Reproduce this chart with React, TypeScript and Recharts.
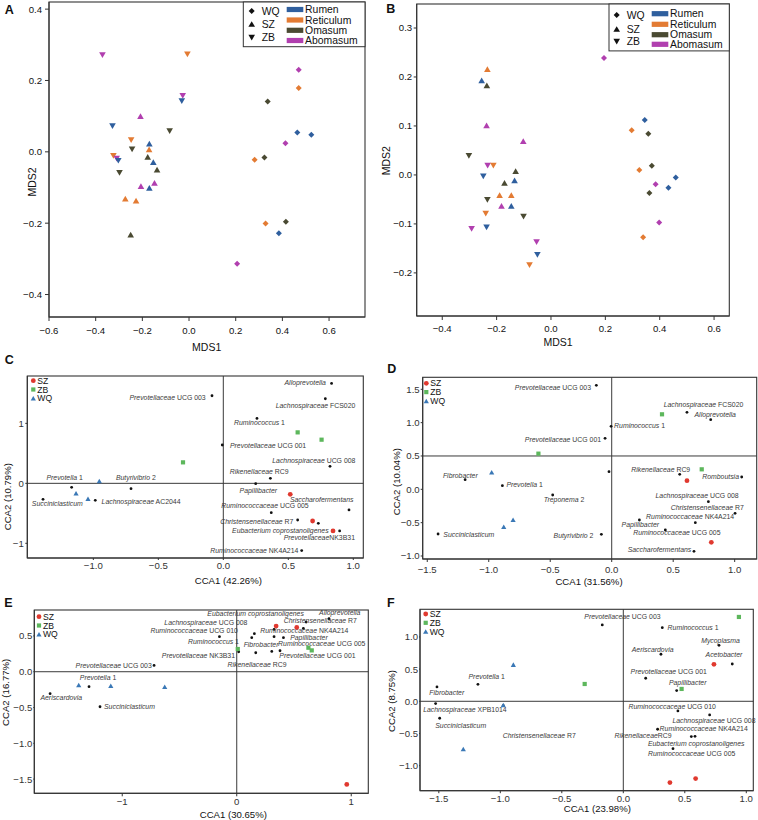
import React from "react";
import { ScatterChart, Scatter, XAxis, YAxis, ReferenceLine } from "recharts";

const FONT = "'Liberation Sans', Arial, Helvetica, sans-serif";

const organs = ["Rumen", "Reticulum", "Omasum", "Abomasum"];
const farms = ["WQ", "SZ", "ZB"];
const organColor: Record<string, string> = {
  Rumen: "#2f5f9e",
  Reticulum: "#e37b33",
  Omasum: "#4a4a32",
  Abomasum: "#b13faf",
};
const farmColor: Record<string, string> = { SZ: "#e0392f", ZB: "#5db75c", WQ: "#3a78b6" };

// ---- panel A (NMDS) ----
const nmdsA_WQ = [
  { organ: "Abomasum", x: 0.47, y: 0.23 },
  { organ: "Reticulum", x: 0.47, y: 0.179 },
  { organ: "Omasum", x: 0.337, y: 0.141 },
  { organ: "Rumen", x: 0.464, y: 0.054 },
  { organ: "Rumen", x: 0.524, y: 0.048 },
  { organ: "Abomasum", x: 0.413, y: 0.024 },
  { organ: "Omasum", x: 0.323, y: -0.016 },
  { organ: "Reticulum", x: 0.281, y: -0.022 },
  { organ: "Reticulum", x: 0.328, y: -0.201 },
  { organ: "Omasum", x: 0.415, y: -0.196 },
  { organ: "Rumen", x: 0.385, y: -0.228 },
  { organ: "Abomasum", x: 0.206, y: -0.314 },
];
const nmdsA_SZ = [
  { organ: "Abomasum", x: -0.208, y: 0.1 },
  { organ: "Rumen", x: -0.17, y: 0.023 },
  { organ: "Reticulum", x: -0.171, y: 0.007 },
  { organ: "Omasum", x: -0.177, y: -0.014 },
  { organ: "Rumen", x: -0.153, y: -0.029 },
  { organ: "Omasum", x: -0.137, y: -0.05 },
  { organ: "Abomasum", x: -0.148, y: -0.087 },
  { organ: "Abomasum", x: -0.206, y: -0.096 },
  { organ: "Rumen", x: -0.17, y: -0.101 },
  { organ: "Reticulum", x: -0.273, y: -0.131 },
  { organ: "Reticulum", x: -0.227, y: -0.137 },
  { organ: "Omasum", x: -0.25, y: -0.232 },
];
const nmdsA_ZB = [
  { organ: "Abomasum", x: -0.371, y: 0.271 },
  { organ: "Reticulum", x: -0.007, y: 0.273 },
  { organ: "Abomasum", x: -0.027, y: 0.157 },
  { organ: "Rumen", x: -0.031, y: 0.142 },
  { organ: "Rumen", x: -0.328, y: 0.072 },
  { organ: "Reticulum", x: -0.248, y: 0.033 },
  { organ: "Omasum", x: -0.244, y: 0.007 },
  { organ: "Omasum", x: -0.083, y: 0.058 },
  { organ: "Reticulum", x: -0.324, y: -0.011 },
  { organ: "Abomasum", x: -0.31, y: -0.019 },
  { organ: "Rumen", x: -0.303, y: -0.025 },
  { organ: "Omasum", x: -0.298, y: -0.059 },
];

// ---- panel B (NMDS) ----
const nmdsB_WQ = [
  { organ: "Abomasum", x: 0.195, y: 0.239 },
  { organ: "Rumen", x: 0.345, y: 0.112 },
  { organ: "Reticulum", x: 0.297, y: 0.091 },
  { organ: "Omasum", x: 0.358, y: 0.084 },
  { organ: "Omasum", x: 0.371, y: 0.019 },
  { organ: "Reticulum", x: 0.325, y: 0.01 },
  { organ: "Abomasum", x: 0.385, y: -0.019 },
  { organ: "Omasum", x: 0.362, y: -0.037 },
  { organ: "Rumen", x: 0.432, y: -0.026 },
  { organ: "Rumen", x: 0.459, y: -0.005 },
  { organ: "Abomasum", x: 0.398, y: -0.097 },
  { organ: "Reticulum", x: 0.339, y: -0.127 },
];
const nmdsB_SZ = [
  { organ: "Reticulum", x: -0.234, y: 0.216 },
  { organ: "Rumen", x: -0.255, y: 0.193 },
  { organ: "Omasum", x: -0.236, y: 0.183 },
  { organ: "Abomasum", x: -0.237, y: 0.101 },
  { organ: "Abomasum", x: -0.102, y: 0.069 },
  { organ: "Omasum", x: -0.13, y: 0.008 },
  { organ: "Rumen", x: -0.134, y: -0.011 },
  { organ: "Omasum", x: -0.171, y: -0.016 },
  { organ: "Reticulum", x: -0.189, y: -0.041 },
  { organ: "Reticulum", x: -0.146, y: -0.041 },
  { organ: "Abomasum", x: -0.182, y: -0.063 },
  { organ: "Rumen", x: -0.146, y: -0.063 },
];
const nmdsB_ZB = [
  { organ: "Omasum", x: -0.302, y: 0.039 },
  { organ: "Abomasum", x: -0.233, y: 0.019 },
  { organ: "Reticulum", x: -0.212, y: 0.019 },
  { organ: "Rumen", x: -0.249, y: -0.003 },
  { organ: "Omasum", x: -0.234, y: -0.051 },
  { organ: "Reticulum", x: -0.24, y: -0.079 },
  { organ: "Rumen", x: -0.237, y: -0.107 },
  { organ: "Abomasum", x: -0.292, y: -0.11 },
  { organ: "Omasum", x: -0.101, y: -0.085 },
  { organ: "Abomasum", x: -0.053, y: -0.137 },
  { organ: "Rumen", x: -0.05, y: -0.163 },
  { organ: "Reticulum", x: -0.079, y: -0.184 },
];

// ---- panel C (CCA) ----
const ccaC_SZ = [{ x: 0.515, y: -0.183 }, { x: 0.687, y: -0.628 }, { x: 0.844, y: -0.794 }];
const ccaC_ZB = [{ x: -0.31, y: 0.35 }, { x: 0.572, y: 0.85 }, { x: 0.756, y: 0.728 }];
const ccaC_WQ = [{ x: -0.954, y: 0.039 }, { x: -1.133, y: -0.167 }, { x: -1.041, y: -0.256 }];
const ccaC_taxa = [
  { name: "Alloprevotella", x: 0.833, y: 1.667 },
  { name: "Lachnospiraceae FCS020", x: 0.785, y: 1.411 },
  { name: "Prevotellaceae UCG 003", x: -0.087, y: 1.461 },
  { name: "Ruminococcus 1", x: 0.259, y: 1.083 },
  { name: "Prevotellaceae UCG 001", x: -0.008, y: 0.639 },
  { name: "Lachnospiraceae UCG 008", x: 0.821, y: 0.283 },
  { name: "Rikenellaceae RC9", x: 0.362, y: 0.083 },
  { name: "Papillibacter", x: 0.249, y: -0.006 },
  { name: "Saccharofermentans", x: 0.967, y: -0.444 },
  { name: "Ruminococcaceae UCG 005", x: 0.369, y: -0.489 },
  { name: "Christensenellaceae R7", x: 0.572, y: -0.611 },
  { name: "Eubacterium coprostanoligenes", x: 0.731, y: -0.667 },
  { name: "PrevotellaceaeNK3B31", x: 0.895, y: -0.794 },
  { name: "Ruminococcaceae NK4A214", x: 0.603, y: -1.122 },
  { name: "Prevotella 1", x: -1.167, y: -0.067 },
  { name: "Butyrivibrio 2", x: -0.71, y: -0.089 },
  { name: "Succiniclasticum", x: -1.387, y: -0.267 },
  { name: "Lachnospiraceae AC2044", x: -0.985, y: -0.283 },
];

// ---- panel D (CCA) ----
const ccaD_SZ = [{ x: 0.612, y: 0.13 }, { x: 0.81, y: -0.795 }];
const ccaD_ZB = [{ x: -0.596, y: 0.535 }, { x: 0.409, y: 1.125 }, { x: 0.732, y: 0.3 }];
const ccaD_WQ = [{ x: -0.976, y: 0.255 }, { x: -0.802, y: -0.455 }, { x: -0.878, y: -0.56 }];
const ccaD_taxa = [
  { name: "Prevotellaceae UCG 003", x: -0.125, y: 1.56 },
  { name: "Lachnospiraceae FCS020", x: 0.612, y: 1.155 },
  { name: "Alloprevotella", x: 0.805, y: 1.045 },
  { name: "Ruminococcus 1", x: -0.005, y: 0.945 },
  { name: "Prevotellaceae UCG 001", x: -0.054, y: 0.765 },
  { name: "", x: -0.022, y: 0.265 },
  { name: "Rikenellaceae RC9", x: 0.553, y: 0.225 },
  { name: "Romboutsia", x: 1.057, y: 0.185 },
  { name: "Fibrobacter", x: -1.192, y: 0.145 },
  { name: "Prevotella 1", x: -0.889, y: 0.055 },
  { name: "Treponema 2", x: -0.48, y: -0.085 },
  { name: "Lachnospiraceae UCG 008", x: 0.786, y: -0.185 },
  { name: "Christensenellaceae R7", x: 1.003, y: -0.36 },
  { name: "Ruminococcaceae NK4A214", x: 0.68, y: -0.5 },
  { name: "Papillibacter", x: 0.225, y: -0.46 },
  { name: "Ruminococcaceae UCG 005", x: 0.436, y: -0.61 },
  { name: "Succiniclasticum", x: -1.412, y: -0.67 },
  { name: "Butyrivibrio 2", x: -0.084, y: -0.675 },
  { name: "Saccharofermentans", x: 0.669, y: -0.93 },
];

// ---- panel E (CCA) ----
const ccaE_SZ = [{ x: 0.344, y: 0.638 }, { x: 0.524, y: 0.619 }, { x: 0.961, y: -1.574 }];
const ccaE_ZB = [{ x: 0.009, y: 0.317 }, { x: 0.626, y: 0.335 }, { x: 0.655, y: 0.298 }];
const ccaE_WQ = [{ x: -1.38, y: -0.186 }, { x: -1.1, y: -0.196 }, { x: -0.629, y: -0.209 }];
const ccaE_taxa = [
  { name: "Alloprevotella", x: 0.806, y: 0.74 },
  { name: "Christensenellaceae R7", x: 0.606, y: 0.694 },
  { name: "Eubacterium coprostanoligenes", x: 0.326, y: 0.591 },
  { name: "Ruminococcaceae NK4A214", x: 0.582, y: 0.605 },
  { name: "Lachnospiraceae UCG 008", x: 0.154, y: 0.531 },
  { name: "Ruminococcaceae UCG 010", x: 0.131, y: 0.475 },
  { name: "Ruminococcus 1", x: -0.151, y: 0.489 },
  { name: "Papillibacter", x: 0.408, y: 0.475 },
  { name: "Fibrobacter", x: 0.326, y: 0.489 },
  { name: "Rikenellaceae RC9", x: 0.166, y: 0.265 },
  { name: "Prevotellaceae NK3B31", x: 0.017, y: 0.279 },
  { name: "Prevotellaceae UCG 001", x: 0.378, y: 0.293 },
  { name: "Ruminococcaceae UCG 005", x: 0.306, y: 0.284 },
  { name: "Prevotellaceae UCG 003", x: -0.722, y: 0.088 },
  { name: "Prevotella 1", x: -1.29, y: -0.209 },
  { name: "Aeriscardovia", x: -1.63, y: -0.307 },
  { name: "Succiniclasticum", x: -1.194, y: -0.489 },
];

// ---- panel F (CCA) ----
const ccaF_SZ = [{ x: 0.737, y: 0.575 }, { x: 0.379, y: -1.264 }, { x: 0.588, y: -1.202 }];
const ccaF_ZB = [{ x: 0.94, y: 1.311 }, { x: -0.314, y: 0.269 }, { x: 0.474, y: 0.192 }];
const ccaF_WQ = [{ x: -0.894, y: 0.57 }, { x: -0.976, y: -0.057 }, { x: -1.301, y: -0.741 }];
const ccaF_taxa = [
  { name: "Prevotellaceae UCG 003", x: -0.171, y: 1.187 },
  { name: "Ruminococcus 1", x: 0.317, y: 1.145 },
  { name: "Mycoplasma", x: 0.778, y: 0.87 },
  { name: "Aeriscardovia", x: 0.306, y: 0.731 },
  { name: "Acetobacter", x: 0.886, y: 0.58 },
  { name: "Prevotellaceae UCG 001", x: 0.182, y: 0.358 },
  { name: "Papillibacter", x: 0.434, y: 0.166 },
  { name: "Prevotella 1", x: -1.182, y: 0.264 },
  { name: "Fibrobacter", x: -1.515, y: 0.223 },
  { name: "Lachnospiraceae XPB1014", x: -1.526, y: -0.036 },
  { name: "Succiniclasticum", x: -1.493, y: -0.264 },
  { name: "Christensenellaceae R7", x: -0.976, y: -0.067 },
  { name: "Ruminococcaceae UCG 010", x: 0.444, y: -0.15 },
  { name: "Lachnospiraceae UCG 008", x: 0.702, y: -0.212 },
  { name: "Ruminococcaceae NK4A214", x: 0.279, y: -0.435 },
  { name: "RikenellaceaeRC9", x: 0.553, y: -0.549 },
  { name: "Eubacterium coprostanoligenes", x: 0.583, y: -0.544 },
  { name: "Ruminococcaceae UCG 005", x: 0.404, y: -0.736 },
];

// label placement (px offset from the dot, text anchor)
type LP = Record<string, [number, number, "start" | "middle" | "end"]>;
const labelsC: LP = {
  Alloprevotella: [-5.7, 1.8, "end"],
  "Lachnospiraceae FCS020": [-9.8, 8.8, "middle"],
  "Prevotellaceae UCG 003": [-6.3, 3.8, "end"],
  "Ruminococcus 1": [2.5, 6.8, "middle"],
  "Prevotellaceae UCG 001": [7.7, 3.2, "start"],
  "Lachnospiraceae UCG 008": [-16.2, -3.5, "middle"],
  "Rikenellaceae RC9": [-11.2, -4.2, "middle"],
  Papillibacter: [2.7, 9.2, "middle"],
  Saccharofermentans: [-27.3, -8.2, "middle"],
  "Ruminococcaceae UCG 005": [-6.3, -4.8, "middle"],
  "Christensenellaceae R7": [-4.3, 3.8, "end"],
  "Eubacterium coprostanoligenes": [-38, 9.8, "middle"],
  PrevotellaceaeNK3B31: [-20.3, 9.2, "middle"],
  "Ruminococcaceae NK4A214": [-3.3, 2.8, "end"],
  "Prevotella 1": [-7, -7.2, "middle"],
  "Butyrivibrio 2": [4.8, -8.5, "middle"],
  Succiniclasticum: [14.3, 6.5, "middle"],
  "Lachnospiraceae AC2044": [6.3, 3.2, "start"],
};
const labelsD: LP = {
  "Prevotellaceae UCG 003": [-5.3, 4.5, "end"],
  "Lachnospiraceae FCS020": [16.5, -5.8, "middle"],
  Alloprevotella: [4.5, -2.8, "middle"],
  "Ruminococcus 1": [3, 1.5, "start"],
  "Prevotellaceae UCG 001": [-4, 3.2, "end"],
  "Rikenellaceae RC9": [-19, -2.8, "middle"],
  Romboutsia: [-2.7, 2.5, "end"],
  Fibrobacter: [-4.8, -1.8, "middle"],
  "Prevotella 1": [4, 1.8, "start"],
  "Treponema 2": [11.3, 6.8, "middle"],
  "Lachnospiraceae UCG 008": [-11.3, -3.8, "middle"],
  "Christensenellaceae R7": [-27.8, -3.8, "middle"],
  "Ruminococcaceae NK4A214": [-5.2, -3.8, "middle"],
  Papillibacter: [1, 7.2, "middle"],
  "Ruminococcaceae UCG 005": [11.5, 5.5, "middle"],
  Succiniclasticum: [5.3, 3.2, "start"],
  "Butyrivibrio 2": [-8, 3.2, "end"],
  Saccharofermentans: [-2.7, 0.5, "end"],
};
const labelsE: LP = {
  Alloprevotella: [10.7, -4.2, "middle"],
  "Christensenellaceae R7": [14.2, 0.5, "middle"],
  "Eubacterium coprostanoligenes": [-18.5, -13.8, "middle"],
  "Ruminococcaceae NK4A214": [1, 4.8, "middle"],
  "Lachnospiraceae UCG 008": [-48.5, -8.8, "middle"],
  "Ruminococcaceae UCG 010": [-57.5, -5.2, "middle"],
  "Ruminococcus 1": [-6, 7.5, "middle"],
  Papillibacter: [6.7, 2.5, "start"],
  Fibrobacter: [-13, 10.2, "middle"],
  "Rikenellaceae RC9": [1.3, 13.8, "middle"],
  "Prevotellaceae NK3B31": [-3.7, 6.5, "end"],
  "Prevotellaceae UCG 001": [-0.7, 7.5, "start"],
  "Ruminococcaceae UCG 005": [50, -5.2, "middle"],
  "Prevotellaceae UCG 003": [-2.3, 2.8, "end"],
  "Prevotella 1": [9, -6.5, "middle"],
  Aeriscardovia: [11.2, 6.2, "middle"],
  Succiniclasticum: [4, 2.2, "start"],
};
const labelsF: LP = {
  "Prevotellaceae UCG 003": [20.2, -5.8, "middle"],
  "Ruminococcus 1": [5.3, 2.5, "start"],
  Mycoplasma: [1.5, -2.8, "middle"],
  Aeriscardovia: [-8.3, -2.5, "middle"],
  Acetobacter: [-8.3, -6.6, "middle"],
  "Prevotellaceae UCG 001": [23, -4.5, "middle"],
  Papillibacter: [11, -5.8, "middle"],
  "Prevotella 1": [8.8, -5.8, "middle"],
  Fibrobacter: [9.8, 8.2, "middle"],
  "Lachnospiraceae XPB1014": [29.3, 8.8, "middle"],
  Succiniclasticum: [21, 9.8, "middle"],
  "Christensenellaceae R7": [36, 32.8, "middle"],
  "Ruminococcaceae UCG 010": [-5.7, -1.8, "middle"],
  "Lachnospiraceae UCG 008": [4.3, 8.5, "middle"],
  "Ruminococcaceae NK4A214": [2, 1.5, "start"],
  RikenellaceaeRC9: [-19.7, 1.2, "end"],
  "Eubacterium coprostanoligenes": [1.2, 10.2, "middle"],
  "Ruminococcaceae UCG 005": [18.7, 7.8, "middle"],
};

// ---- marker helpers ----
function triPath(cx: number, cy: number, w: number, up: boolean) {
  const h = w * 0.87;
  return up
    ? `M${cx},${cy - h / 2}L${cx + w / 2},${cy + h / 2}L${cx - w / 2},${cy + h / 2}Z`
    : `M${cx},${cy + h / 2}L${cx + w / 2},${cy - h / 2}L${cx - w / 2},${cy - h / 2}Z`;
}
function diaPath(cx: number, cy: number, r: number) {
  return `M${cx},${cy - r}L${cx + r},${cy}L${cx},${cy + r}L${cx - r},${cy}Z`;
}
function farmMark(farm: string, cx: number, cy: number, fill: string) {
  if (farm === "WQ") return <path d={diaPath(cx, cy, 3)} fill={fill} />;
  return <path d={triPath(cx, cy, 6.6, farm === "SZ")} fill={fill} />;
}
function sampleMark(farm: string, cx: number, cy: number) {
  const c = farmColor[farm];
  if (farm === "SZ") return <circle cx={cx} cy={cy} r={2.4} fill={c} />;
  if (farm === "ZB") return <rect x={cx - 2.1} y={cy - 2.1} width={4.2} height={4.2} fill={c} />;
  return <path d={triPath(cx, cy, 5.2, true)} fill={c} />;
}
function taxonParts(name: string) {
  const m = name.match(/^([A-Z][a-z]+(?: [a-z]+)?)(.*)$/);
  return m ? [m[1], m[2]] : [name, ""];
}

const fmt1 = (v: number) => (v < 0 ? "\u2212" : "") + Math.abs(v).toFixed(1);
const fmt0 = (v: number) => (v < 0 ? "\u2212" : "") + Math.abs(v).toFixed(0);

type Frame = {
  left: number;
  top: number;
  width: number;
  height: number;
  box: [number, number, number, number];
  xDomain: [number, number];
  yDomain: [number, number];
  xTicks: number[];
  yTicks: number[];
  xFmt: (v: number) => string;
  yFmt: (v: number) => string;
  xTick: [number, number];
  yTick: [number, number];
  tickColor: string;
};

// frame rectangles of the six plot panels (page pixels)
const panelBoxes: [number, number, number, number][] = [
  [49, 2, 365, 317],
  [416.7, 4, 729.3, 316],
  [27.3, 376, 363.3, 558],
  [422.7, 377.3, 756.7, 559],
  [34.3, 610, 368.3, 793.3],
  [420, 609.3, 753.3, 790.7],
];

function chart(f: Frame, children: React.ReactNode) {
  const [x0, y0, x1, y1] = f.box;
  const tickStyle = { fontSize: 9.6, fill: f.tickColor, fontFamily: FONT };
  return (
    <div style={{ position: "absolute", left: f.left, top: f.top }}>
      <ScatterChart
        width={f.width}
        height={f.height}
        margin={{ top: y0 - f.top, right: f.left + f.width - x1, bottom: 0, left: 0 }}
      >
        <XAxis
          type="number"
          dataKey="x"
          domain={f.xDomain}
          ticks={f.xTicks}
          interval={0}
          height={f.top + f.height - y1}
          axisLine={{ stroke: "#333" }}
          tickLine={{ stroke: "#333" }}
          stroke="#333"
          tickSize={f.xTick[0]}
          tickMargin={f.xTick[1]}
          tick={tickStyle}
          tickFormatter={f.xFmt}
        />
        <YAxis
          type="number"
          dataKey="y"
          domain={f.yDomain}
          ticks={f.yTicks}
          interval={0}
          width={x0 - f.left}
          axisLine={{ stroke: "#333" }}
          tickLine={{ stroke: "#333" }}
          stroke="#333"
          tickSize={f.yTick[0]}
          tickMargin={f.yTick[1]}
          tick={tickStyle}
          tickFormatter={f.yFmt}
        />
        {children}
      </ScatterChart>
    </div>
  );
}

function nmdsSeries(data: Record<string, { organ: string; x: number; y: number }[]>) {
  return farms.map((farm) => (
    <Scatter
      key={farm}
      data={data[farm]}
      isAnimationActive={false}
      shape={(p: any) => farmMark(farm, p.cx, p.cy, organColor[p.payload.organ])}
    />
  ));
}

function ccaSeries(
  taxa: { name: string; x: number; y: number }[],
  labels: LP,
  samples: Record<string, { x: number; y: number }[]>,
  hLine: number
) {
  return [
    <ReferenceLine key="v" x={0} stroke="#3a3a3a" strokeWidth={1} />,
    <ReferenceLine key="h" y={hLine} stroke="#3a3a3a" strokeWidth={1} />,
    <Scatter
      key="taxa"
      data={taxa}
      isAnimationActive={false}
      shape={(p: any) => {
        const lp = labels[p.payload.name];
        const [it, up] = taxonParts(p.payload.name);
        return (
          <g>
            <circle cx={p.cx} cy={p.cy} r={1.4} fill="#111" />
            {lp && (
              <text
                x={p.cx + lp[0]}
                y={p.cy + lp[1]}
                textAnchor={lp[2]}
                fontSize={6.9}
                fill="#3a3a3a"
                fontFamily={FONT}
                style={{ whiteSpace: "pre" }}
              >
                <tspan fontStyle="italic">{it}</tspan>
                <tspan>{up}</tspan>
              </text>
            )}
          </g>
        );
      }}
    />,
    ...["WQ", "ZB", "SZ"].map((farm) => (
      <Scatter
        key={farm}
        data={samples[farm]}
        isAnimationActive={false}
        shape={(p: any) => sampleMark(farm, p.cx, p.cy)}
      />
    )),
  ];
}

function Overlay() {
  const t = { fontFamily: FONT, fill: "#111" };
  const nmdsLegend = (bx: number, by: number, bw: number, bh: number, fx: number, fy: number[], sx: number, sy: number[]) => (
    <g>
      <rect x={bx} y={by} width={bw} height={bh} fill="#fff" stroke="#333" strokeWidth={1} />
      {farms.map((farm, i) => (
        <g key={farm}>
          {farmMark(farm, fx, fy[i], "#111")}
          <text x={fx + 10} y={fy[i]} dominantBaseline="central" fontSize={10.4} {...t}>
            {farm}
          </text>
        </g>
      ))}
      {organs.map((o, i) => (
        <g key={o}>
          <rect x={sx} y={sy[i] - 2.6} width={16.6} height={5.2} fill={organColor[o]} />
          <text x={sx + 18.4} y={sy[i]} dominantBaseline="central" fontSize={10.4} {...t}>
            {o}
          </text>
        </g>
      ))}
    </g>
  );
  const ccaLegend = (x: number, y: number) => (
    <g>
      {["SZ", "ZB", "WQ"].map((farm, i) => (
        <g key={farm}>
          {sampleMark(farm, x, y + i * 8.8)}
          <text x={x + 4} y={y + i * 8.8} dominantBaseline="central" fontSize={8.6} {...t}>
            {farm}
          </text>
        </g>
      ))}
    </g>
  );
  const letter = (s: string, x: number, y: number) => (
    <text x={x} y={y} textAnchor="middle" dominantBaseline="central" fontSize={12.5} fontWeight="bold" {...t}>
      {s}
    </text>
  );
  const title = (s: string, x: number, y: number, rot = false, size = 10) => (
    <text
      x={x}
      y={y}
      textAnchor="middle"
      dominantBaseline="central"
      fontSize={size}
      transform={rot ? `rotate(-90 ${x} ${y})` : undefined}
      {...t}
    >
      {s}
    </text>
  );
  return (
    <svg width={758} height={820} style={{ position: "absolute", left: 0, top: 0, pointerEvents: "none" }}>
      {panelBoxes.map(([a, b, c, d], i) => (
        <rect key={i} x={a} y={b} width={c - a} height={d - b} fill="none" stroke="#333" strokeWidth={1.1} />
      ))}
      {nmdsLegend(243.3, 2, 121.7, 44.7, 251.7, [11, 24, 37.7], 286.7, [9.5, 20, 30.3, 40.5])}
      {nmdsLegend(609, 4, 120.3, 46.9, 616.7, [15, 29, 41.7], 651.7, [13.7, 24.3, 34.7, 44.3])}
      {ccaLegend(33.3, 380.7)}
      {ccaLegend(426.3, 383.3)}
      {ccaLegend(39, 616.7)}
      {ccaLegend(425.7, 614)}
      {letter("A", 9.3, 10)}
      {letter("B", 390.7, 9.3)}
      {letter("C", 9.3, 360)}
      {letter("D", 391.7, 369.3)}
      {letter("E", 8.3, 603.3)}
      {letter("F", 390.7, 603.3)}
      {title("MDS1", 206.7, 346.7, false, 10.5)}
      {title("MDS2", 31.7, 182, true, 10.5)}
      {title("MDS1", 558, 341.7, false, 10.5)}
      {title("MDS2", 385.7, 160.7, true, 10.5)}
      {title("CCA1 (42.26%)", 228.3, 580.7, false, 9.6)}
      {title("CCA2 (10.79%)", 7.3, 496.7, true, 9.6)}
      {title("CCA1 (31.56%)", 589, 581.7, false, 9.6)}
      {title("CCA2 (10.04%)", 396.3, 481.7, true, 9.6)}
      {title("CCA1 (30.65%)", 233.3, 814, false, 9.6)}
      {title("CCA2 (16.77%)", 6, 692.3, true, 9.6)}
      {title("CCA1 (23.98%)", 597.3, 808.3, false, 9.6)}
      {title("CCA2 (8.75%)", 391.7, 701, true, 9.6)}
    </svg>
  );
}

export default function App() {
  return (
    <div style={{ position: "absolute", left: 0, top: 0, width: 758, height: 820, background: "#fff", fontFamily: FONT }}>
      {chart(
        {
          left: 0, top: 0, width: 379, height: 360,
          box: panelBoxes[0],
          xDomain: [-0.6, 0.754], yDomain: [-0.463, 0.42],
          xTicks: [-0.6, -0.4, -0.2, 0, 0.2, 0.4, 0.6], yTicks: [-0.4, -0.2, 0, 0.2, 0.4],
          xFmt: fmt1, yFmt: fmt1, xTick: [4, 6], yTick: [4, 3], tickColor: "#111",
        },
        nmdsSeries({ WQ: nmdsA_WQ, SZ: nmdsA_SZ, ZB: nmdsA_ZB })
      )}
      {chart(
        {
          left: 379, top: 0, width: 379, height: 360,
          box: panelBoxes[1],
          xDomain: [-0.494, 0.656], yDomain: [-0.288, 0.349],
          xTicks: [-0.4, -0.2, 0, 0.2, 0.4, 0.6], yTicks: [-0.2, -0.1, 0, 0.1, 0.2, 0.3],
          xFmt: fmt1, yFmt: fmt1, xTick: [4, 5], yTick: [3, 1.5], tickColor: "#111",
        },
        nmdsSeries({ WQ: nmdsB_WQ, SZ: nmdsB_SZ, ZB: nmdsB_ZB })
      )}
      {chart(
        {
          left: 0, top: 358, width: 379, height: 240,
          box: panelBoxes[2],
          xDomain: [-1.508, 1.077], yDomain: [-1.245, 1.79],
          xTicks: [-1, -0.5, 0, 0.5, 1], yTicks: [-1, 0, 1],
          xFmt: fmt1, yFmt: fmt0, xTick: [2, 2], yTick: [2, 1.5], tickColor: "#333",
        },
        ccaSeries(ccaC_taxa, labelsC, { SZ: ccaC_SZ, ZB: ccaC_ZB, WQ: ccaC_WQ }, 0)
      )}
      {chart(
        {
          left: 379, top: 358, width: 379, height: 240,
          box: panelBoxes[3],
          xDomain: [-1.537, 1.179], yDomain: [-1.045, 1.68],
          xTicks: [-1.5, -1, -0.5, 0, 0.5, 1], yTicks: [-1, -0.5, 0, 0.5, 1, 1.5],
          xFmt: fmt1, yFmt: fmt1, xTick: [3, 4.5], yTick: [2, 1], tickColor: "#333",
        },
        ccaSeries(ccaD_taxa, labelsD, { SZ: ccaD_SZ, ZB: ccaD_ZB, WQ: ccaD_WQ }, 0.5)
      )}
      {chart(
        {
          left: 0, top: 598, width: 379, height: 222,
          box: panelBoxes[4],
          xDomain: [-1.768, 1.149], yDomain: [-1.698, 0.862],
          xTicks: [-1, 0, 1], yTicks: [-1.5, -1, -0.5, 0, 0.5],
          xFmt: fmt0, yFmt: fmt1, xTick: [3, 2], yTick: [1, 1], tickColor: "#333",
        },
        ccaSeries(ccaE_taxa, labelsE, { SZ: ccaE_SZ, ZB: ccaE_ZB, WQ: ccaE_WQ }, 0)
      )}
      {chart(
        {
          left: 379, top: 598, width: 379, height: 222,
          box: panelBoxes[5],
          xDomain: [-1.653, 1.057], yDomain: [-1.39, 1.43],
          xTicks: [-1.5, -1, -0.5, 0, 0.5, 1], yTicks: [-1, -0.5, 0, 0.5, 1],
          xFmt: fmt1, yFmt: fmt1, xTick: [2.5, 2], yTick: [1, 1], tickColor: "#333",
        },
        ccaSeries(ccaF_taxa, labelsF, { SZ: ccaF_SZ, ZB: ccaF_ZB, WQ: ccaF_WQ }, 0)
      )}
      <Overlay />
    </div>
  );
}
